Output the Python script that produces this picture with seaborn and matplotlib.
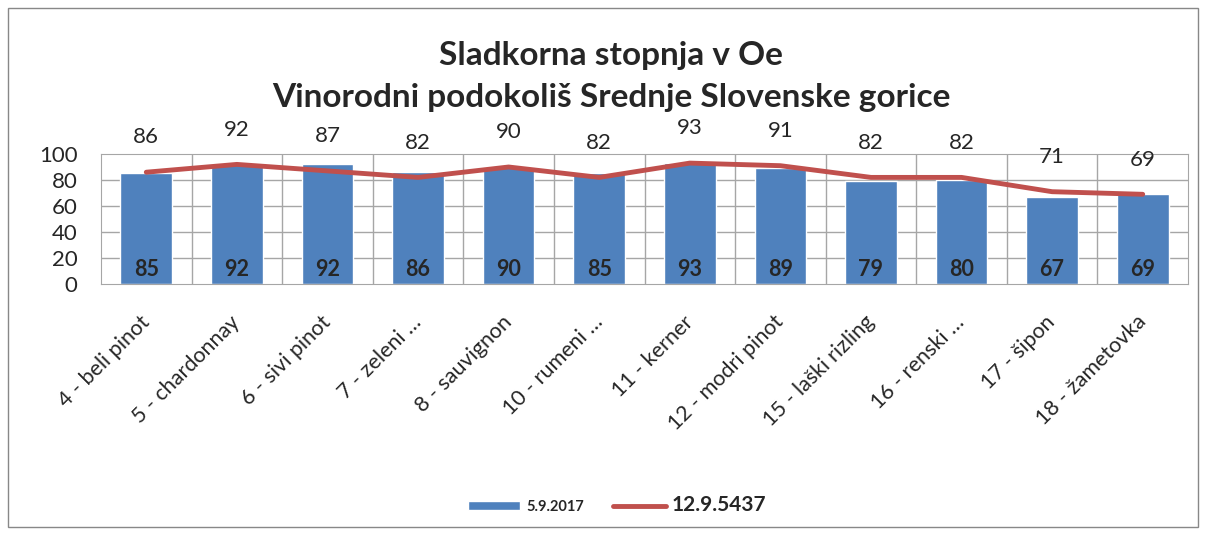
import matplotlib
matplotlib.use('Agg')
import matplotlib.pyplot as plt
import matplotlib.transforms as mtransforms
import seaborn as sns
import pandas as pd
from matplotlib.patches import Rectangle

# podatki
sorte = ['4 - beli pinot', '5 - chardonnay', '6 - sivi pinot', '7 - zeleni …',
         '8 - sauvignon', '10 - rumeni …', '11 - kerner', '12 - modri pinot',
         '15 - laški rizling', '16 - renski …', '17 - šipon', '18 - žametovka']
stopnja_1 = [85, 92, 92, 86, 90, 85, 93, 89, 79, 80, 67, 69]
stopnja_2 = [86, 92, 87, 82, 90, 82, 93, 91, 82, 82, 71, 69]
serija_1 = '5.9.2017'
serija_2 = '12.9.5437'

sns.set_style('white')
plt.rcParams['font.family'] = ['Lato', 'DejaVu Sans']

df = pd.DataFrame({'sorta': sorte, 'v1': stopnja_1, 'v2': stopnja_2})

W, H = 1206, 535
fig = plt.figure(figsize=(W / 100, H / 100), dpi=100)
ax = fig.add_axes([101 / W, 1 - 284 / H, 1087 / W, 130 / H])

sns.barplot(data=df, x='sorta', y='v1', color='#4F81BD', saturation=1,
            width=0.57, ax=ax, zorder=2)
sns.lineplot(x=range(len(sorte)), y=stopnja_2, color='#C0504D', linewidth=3.5,
             ax=ax, zorder=3)

ax.set_xlim(-0.5, len(sorte) - 0.5)
ax.set_ylim(0, 100)
ax.set_yticks(range(0, 101, 20))
ax.set_xlabel('')
ax.set_ylabel('')

# mreža
for y in range(20, 100, 20):
    ax.axhline(y, color='#A6A6A6', lw=1, zorder=1)
for x in range(1, len(sorte)):
    ax.axvline(x - 0.5, color='#A6A6A6', lw=1, zorder=1)
for s in ax.spines.values():
    s.set_color('#A6A6A6')

ax.tick_params(axis='y', labelsize=16, pad=17, length=0)
ax.tick_params(axis='x', length=0, pad=20)
ax.set_xticks(range(len(sorte)))
ax.set_xticklabels(sorte, rotation=45, ha='right', rotation_mode='anchor', fontsize=15.5)
pomik = mtransforms.ScaledTranslation(-7 / 100, 0, fig.dpi_scale_trans)
for lbl in ax.get_xticklabels():
    lbl.set_transform(lbl.get_transform() + pomik)

# oznake vrednosti
for i, v in enumerate(stopnja_1):
    ax.text(i, 11, str(v), ha='center', va='center', fontsize=15.5,
            fontweight='bold', zorder=4)
for i, v in enumerate(stopnja_2):
    ax.annotate(str(v), (i, v), xytext=(0, 25), textcoords='offset points',
                ha='center', va='center', fontsize=16, annotation_clip=False)

fig.text(611 / W, 1 - 55 / H, 'Sladkorna stopnja v Oe', ha='center', va='center',
         fontsize=24, fontweight='bold')
fig.text(611 / W, 1 - 98 / H, 'Vinorodni podokoliš Srednje Slovenske gorice',
         ha='center', va='center', fontsize=24, fontweight='bold')

# legenda: stolpec najprej, nato črta
h_bar = Rectangle((0, 0), 1, 1, facecolor='#4F81BD')
h_line = plt.Line2D([], [], color='#C0504D', lw=3.5)
leg = fig.legend([h_bar, h_line], [serija_1, serija_2], loc='center',
                 bbox_to_anchor=(617 / W, 1 - 505 / H), ncol=2, frameon=False,
                 handlelength=3.6, handleheight=0.6, handletextpad=0.4,
                 columnspacing=2, prop={'weight': 'bold', 'size': 10.5})
leg.get_texts()[1].set_fontsize(15)

# okvir grafikona
fig.patches.append(Rectangle((8 / W, 8 / H), 1190 / W, 519 / H,
                             transform=fig.transFigure, fill=False,
                             edgecolor='#888888', lw=1))

fig.savefig('out.png', dpi=100)
